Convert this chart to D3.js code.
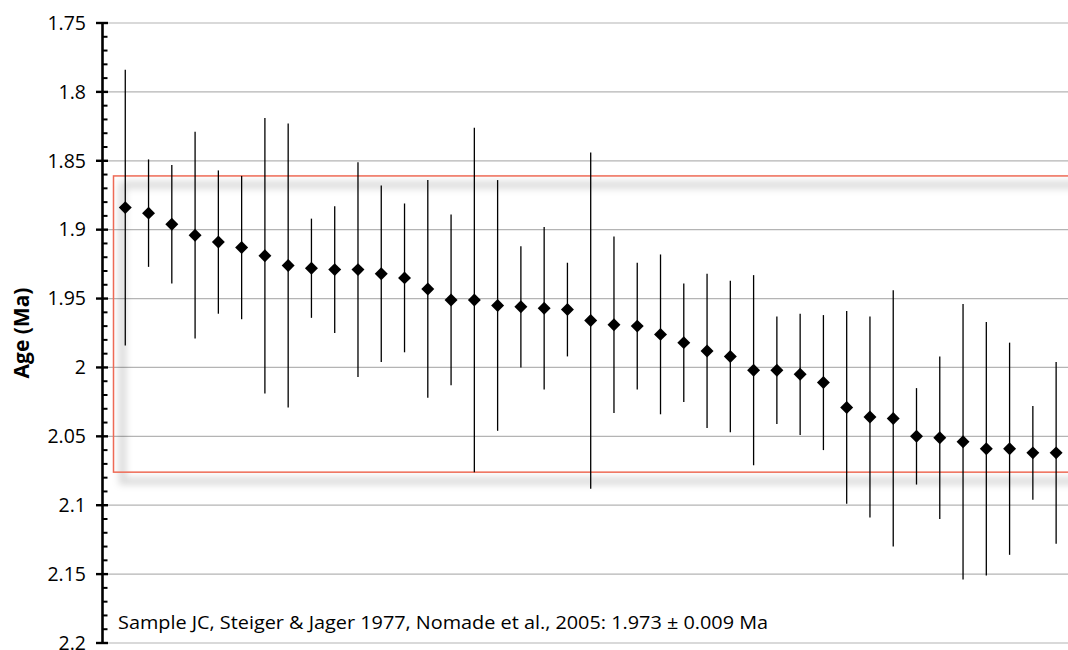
<!DOCTYPE html>
<html>
<head>
<meta charset="utf-8">
<script src="https://cdn.jsdelivr.net/npm/d3@7"></script>
<style>
  html, body { margin: 0; padding: 0; background: #fff; }
  svg { display: block; font-family: "Open Sans", "Liberation Sans", sans-serif; }
</style>
</head>
<body>
<svg id="chart" width="1068" height="650"></svg>
<script>
// Individual analyses (sorted by age), 2-sigma uncertainties, in Ma
const analysis = d3.range(1, 42);
const ages = [
  1.884, 1.888, 1.896, 1.904, 1.909, 1.913, 1.919, 1.926, 1.928, 1.929,
  1.929, 1.932, 1.935, 1.943, 1.951, 1.951, 1.955, 1.956, 1.957, 1.958,
  1.966, 1.969, 1.970, 1.976, 1.982, 1.988, 1.992, 2.002, 2.002, 2.005,
  2.011, 2.029, 2.036, 2.037, 2.050, 2.051, 2.054, 2.059, 2.059, 2.062,
  2.062
];
const errors = [
  0.100, 0.039, 0.043, 0.075, 0.052, 0.052, 0.100, 0.103, 0.036, 0.046,
  0.078, 0.064, 0.054, 0.079, 0.062, 0.125, 0.091, 0.044, 0.059, 0.034,
  0.122, 0.064, 0.046, 0.058, 0.043, 0.056, 0.055, 0.069, 0.039, 0.044,
  0.049, 0.070, 0.073, 0.093, 0.035, 0.059, 0.100, 0.092, 0.077, 0.034,
  0.066
];
// Highlighted age band
const bandAges = [1.861, 2.076];
const yTicks = [1.75, 1.8, 1.85, 1.9, 1.95, 2, 2.05, 2.1, 2.15, 2.2];
const yLabel = "Age (Ma)";
const note = "Sample JC, Steiger & Jager 1977, Nomade et al., 2005: 1.973 \u00b1 0.009 Ma";

const svg = d3.select("#chart");

const x = d3.scaleLinear().domain([0, 42]).range([102, 1079.4]);
const y = d3.scaleLinear().domain([1.75, 2.2]).range([23, 643]);

// soft shadow for the band outline
const defs = svg.append("defs");
const blur = defs.append("filter").attr("id", "bandShadow")
  .attr("x", "-5%").attr("y", "-20%").attr("width", "110%").attr("height", "140%");
blur.append("feGaussianBlur").attr("stdDeviation", 3.5);

// horizontal gridlines
svg.append("g")
  .selectAll("line")
  .data(yTicks)
  .join("line")
  .attr("x1", 108).attr("x2", 1068)
  .attr("y1", d => y(d)).attr("y2", d => y(d))
  .attr("stroke", "#b4b4b4")
  .attr("stroke-width", 1.2);

// band outline with its shadow
const bandTop = y(bandAges[0]), bandBottom = y(bandAges[1]);
svg.append("rect")
  .attr("x", 113.5 + 9).attr("y", bandTop + 9)
  .attr("width", 1000).attr("height", bandBottom - bandTop)
  .attr("fill", "none")
  .attr("stroke", "#000")
  .attr("stroke-opacity", 0.15)
  .attr("stroke-width", 7)
  .attr("filter", "url(#bandShadow)");
svg.append("rect")
  .attr("x", 113.5).attr("y", bandTop)
  .attr("width", 1000).attr("height", bandBottom - bandTop)
  .attr("fill", "none")
  .attr("stroke", "#ee6a55")
  .attr("stroke-width", 1.5);

// y axis with major and minor ticks
const axisG = svg.append("g");
axisG.append("line")
  .attr("x1", 102.5).attr("x2", 102.5)
  .attr("y1", y(1.75)).attr("y2", y(2.2))
  .attr("stroke", "#000").attr("stroke-width", 2.6);
const minor = d3.range(1.75, 2.2001, 0.01).filter(v => Math.abs(v * 20 - Math.round(v * 20)) > 1e-6);
axisG.selectAll("line.minor")
  .data(minor)
  .join("line")
  .attr("class", "minor")
  .attr("x1", 102.5).attr("x2", 107.5)
  .attr("y1", d => y(d)).attr("y2", d => y(d))
  .attr("stroke", "#000").attr("stroke-width", 2);
axisG.selectAll("line.major")
  .data(yTicks)
  .join("line")
  .attr("class", "major")
  .attr("x1", 96).attr("x2", 108)
  .attr("y1", d => y(d)).attr("y2", d => y(d))
  .attr("stroke", "#000").attr("stroke-width", 2.4);
axisG.selectAll("text")
  .data(yTicks)
  .join("text")
  .attr("x", 86)
  .attr("y", d => y(d))
  .attr("dy", "0.35em")
  .attr("text-anchor", "end")
  .attr("font-size", 19.5)
  .attr("fill", "#000")
  .text(d => d3.format("~g")(d));

// axis title
svg.append("text")
  .attr("transform", `translate(29,${(y(1.75) + y(2.2)) / 2}) rotate(-90)`)
  .attr("text-anchor", "middle")
  .attr("font-size", 21)
  .attr("font-weight", "bold")
  .attr("fill", "#000")
  .text(yLabel);

const pts = analysis.map((n, i) => ({ n, age: ages[i], err: errors[i] }));

// error bars
svg.append("g")
  .selectAll("line")
  .data(pts)
  .join("line")
  .attr("x1", d => x(d.n)).attr("x2", d => x(d.n))
  .attr("y1", d => y(d.age - d.err)).attr("y2", d => y(d.age + d.err))
  .attr("stroke", "#000")
  .attr("stroke-width", 1.3);

// diamond markers
const diamond = d3.symbol().type(d3.symbolSquare).size(84);
svg.append("g")
  .selectAll("path")
  .data(pts)
  .join("path")
  .attr("d", diamond)
  .attr("transform", d => `translate(${x(d.n)},${y(d.age)}) rotate(45)`)
  .attr("fill", "#000");

// reference note
svg.append("text")
  .attr("x", 118)
  .attr("y", 629)
  .attr("font-size", 18.5)
  .attr("fill", "#000")
  .attr("textLength", 650)
  .attr("lengthAdjust", "spacingAndGlyphs")
  .text(note);
</script>
</body>
</html>
